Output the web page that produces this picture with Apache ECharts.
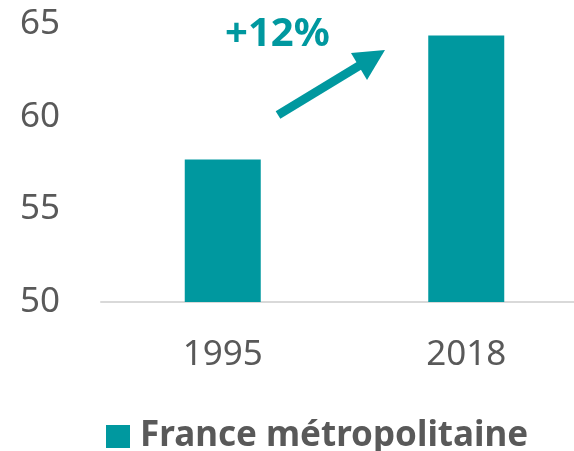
<!DOCTYPE html>
<html>
<head>
<meta charset="utf-8">
<script src="https://cdn.jsdelivr.net/npm/echarts@6/dist/echarts.min.js"></script>
<style>
  html, body { margin: 0; padding: 0; background: #fff; overflow: hidden; }
  /* la zone de tracé dépasse à droite, comme sur l'original recadré */
  #main { width: 588px; height: 451px; }
</style>
</head>
<body>
<div id="main"></div>
<script type="text/javascript">
// données
var years = ['1995', '2018'];
var values = [57.7, 64.4];
var seriesName = 'France métropolitaine';
var yTicks = [50, 55, 60, 65];
var growthLabel = '+12%';

var teal = '#00989F';
var grey = '#595959';
var font = '"Noto Sans", sans-serif';

var myChart = echarts.init(document.getElementById('main'));

var option = {
    animation: false,
    textStyle: { fontFamily: font },
    grid: {
        left: 101,
        top: 24.5,
        right: 0,
        bottom: 149,
        containLabel: false
    },
    legend: {
        data: [seriesName],
        left: 101,
        top: 414,
        itemWidth: 24,
        itemHeight: 23,
        icon: 'rect',
        textStyle: {
            fontFamily: font,
            fontSize: 35,
            fontWeight: 'bold',
            color: grey,
            padding: [0, 0, 0, 5]
        }
    },
    xAxis: {
        type: 'category',
        data: years,
        axisTick: { show: false },
        axisLine: { lineStyle: { color: '#d9d9d9', width: 2 } },
        axisLabel: { fontSize: 35, color: grey, margin: 36, fontFamily: font }
    },
    yAxis: {
        type: 'value',
        min: yTicks[0],
        max: yTicks[yTicks.length - 1],
        interval: yTicks[1] - yTicks[0],
        splitLine: { show: false },
        axisLine: { show: false },
        axisTick: { show: false },
        axisLabel: { fontSize: 35, color: grey, margin: 41, fontFamily: font }
    },
    series: [
        {
            name: seriesName,
            type: 'bar',
            data: values,
            barWidth: 76,
            itemStyle: { color: teal }
        }
    ],
    // flèche et libellé d'évolution
    graphic: [
        {
            type: 'text',
            left: 225,
            top: 15,
            style: {
                text: growthLabel,
                fill: teal,
                font: 'bold 40px "Noto Sans", sans-serif'
            }
        },
        {
            type: 'line',
            shape: { x1: 278, y1: 115, x2: 362, y2: 64 },
            style: { stroke: teal, lineWidth: 9, lineCap: 'butt' }
        },
        {
            type: 'polygon',
            shape: { points: [[385, 50], [351, 53], [367, 80]] },
            style: { fill: teal }
        }
    ]
};

myChart.setOption(option);
</script>
</body>
</html>
